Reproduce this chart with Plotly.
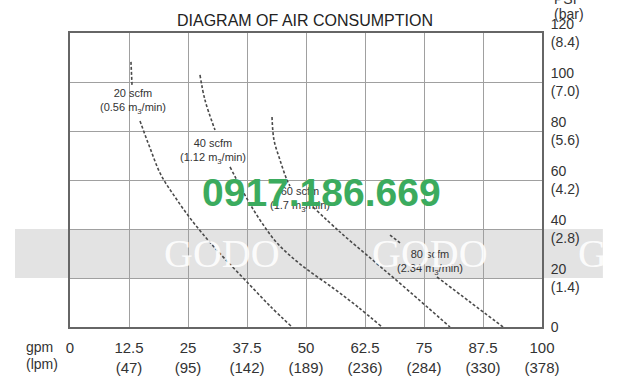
import plotly.graph_objects as go

# ---- data ----
gpm_ticks = [0, 12.5, 25, 37.5, 50, 62.5, 75, 87.5, 100]
lpm_ticks = ["", "(47)", "(95)", "(142)", "(189)", "(236)", "(284)", "(330)", "(378)"]
psi_ticks = [0, 20, 40, 60, 80, 100, 120]
bar_ticks = ["", "(1.4)", "(2.8)", "(4.2)", "(5.6)", "(7.0)", "(8.4)"]

curve_names = ["20 scfm", "40 scfm", "60 scfm", "80 scfm"]
curve_m3 = ["0.56", "1.12", "1.7", "2.34"]

flow_20 = [12.92, 13.14, None, 14.83, 16.95, 19.28, 22.25, 25.42, 29.03, 32.84, 37.71, 42.37, 47.03]
psi_20 = [108.2, 98.8, None, 84.08, 73.06, 62.04, 53.06, 44.49, 35.92, 27.76, 17.96, 8.57, 0]

flow_40 = [27.54, 28.60, 30.72, None, 33.90, 36.02, 38.14, 40.68, 43.86, 48.73, 55.72, 61.02, 66.10]
psi_40 = [102.86, 92.65, 80.41, None, 65.31, 57.55, 50.20, 42.45, 34.29, 25.71, 15.92, 8.16, 0]

flow_60 = [42.80, 43.22, 44.49, 45.97, 46.61, None, 51.48, 57.20, 64.62, 72.03, 80.51]
psi_60 = [85.71, 76.33, 68.16, 60.0, 57.55, None, 48.98, 38.78, 26.53, 14.29, 0]

flow_80 = [67.80, 69.92, None, 77.75, 84.75, 91.74]
psi_80 = [37.55, 34.29, None, 20.41, 10.20, 0]

# label anchor positions (data units)
label_x = [13.4, 30.3, 48.7, 76.3]
label_y = [92.2, 71.8, 52.2, 26.5]

FONT = "Liberation Sans, Arial, sans-serif"
SERIF = "Liberation Serif, DejaVu Serif, serif"
LINE = "#4a4a4a"

fig = go.Figure()
for fx, py in [(flow_20, psi_20), (flow_40, psi_40), (flow_60, psi_60), (flow_80, psi_80)]:
    fig.add_trace(go.Scatter(
        x=fx, y=py, mode="lines", line=dict(color=LINE, width=1.6, dash="3px,2px", shape="spline"),
        connectgaps=False, showlegend=False, hoverinfo="skip"))

# curve labels
for name, m3, lx, ly in zip(curve_names, curve_m3, label_x, label_y):
    fig.add_annotation(x=lx, y=ly, xref="x", yref="y", xanchor="center", yanchor="middle",
                       text=f"{name}<br>({m3} m<sub>3</sub>/min)", showarrow=False,
                       font=dict(family=FONT, size=11, color="#333"), align="center")

# grey watermark band (20–40 psi)
fig.add_shape(type="rect", xref="paper", yref="y", x0=-0.1165, x1=1.129, y0=20, y1=40,
              fillcolor="#e3e3e3", line=dict(width=0), layer="below")
for gx in [0.322, 0.763, 1.108]:
    fig.add_annotation(x=gx, y=30, xref="paper", yref="y", xanchor="center", yanchor="middle",
                       text="GODO" if gx < 1 else "G", showarrow=False,
                       font=dict(family=SERIF, size=40, color="rgba(255,255,255,0.9)"))

# green phone watermark
fig.add_annotation(x=(321 - 70) / 472, y=(327 - 193) / 294, xref="paper", yref="paper",
                   xanchor="center", yanchor="middle",
                   text="<b>0917.186.669</b>", showarrow=False,
                   font=dict(family="Liberation Sans Narrow, Arial Narrow, Liberation Sans, sans-serif",
                             size=39, color="#3bab5e"))

# axis unit labels
for txt, ax, ay in [("gpm", -0.097, -0.068), ("(lpm)", -0.097, -0.126),
                    ("PSI", 1.021, 1.116), ("(bar)", 1.021, 1.066)]:
    fig.add_annotation(x=ax, y=ay, xref="paper", yref="paper", text=txt, showarrow=False,
                       xanchor="left", yanchor="middle", font=dict(family=FONT, size=14, color="#333"))

xt = [f"{g:g}<br>{l}" if l else f"{g:g}" for g, l in zip(gpm_ticks, lpm_ticks)]
yt = [f"{p}<br>{b}" if b else f"{p}" for p, b in zip(psi_ticks, bar_ticks)]

fig.update_layout(
    width=640, height=389,
    margin=dict(l=70, r=98, t=33, b=62),
    paper_bgcolor="white", plot_bgcolor="rgba(0,0,0,0)",
    title=dict(text="DIAGRAM OF AIR CONSUMPTION", x=305 / 640, y=1 - 20.5 / 389,
               xanchor="center", yanchor="middle",
               font=dict(family=FONT, size=16, color="#222")),
    xaxis=dict(range=[0, 100], tickvals=gpm_ticks, ticktext=xt, showgrid=True,
               gridcolor="#a0a0a0", gridwidth=1, showline=True, mirror=True,
               linecolor="#666", linewidth=2, zeroline=False, ticks="",
               ticklabelstandoff=6, tickfont=dict(family=FONT, size=15, color="#333")),
    yaxis=dict(range=[0, 120], tickvals=psi_ticks, ticktext=yt, side="right", showgrid=True,
               gridcolor="#a0a0a0", gridwidth=1, showline=True, mirror=True,
               linecolor="#666", linewidth=2, zeroline=False, ticks="",
               ticklabelstandoff=4, tickfont=dict(family=FONT, size=14, color="#333")),
)

fig.write_html("out.html", config={"displayModeBar": False},
               post_script="document.body.style.margin='0';document.body.style.padding='0';")
